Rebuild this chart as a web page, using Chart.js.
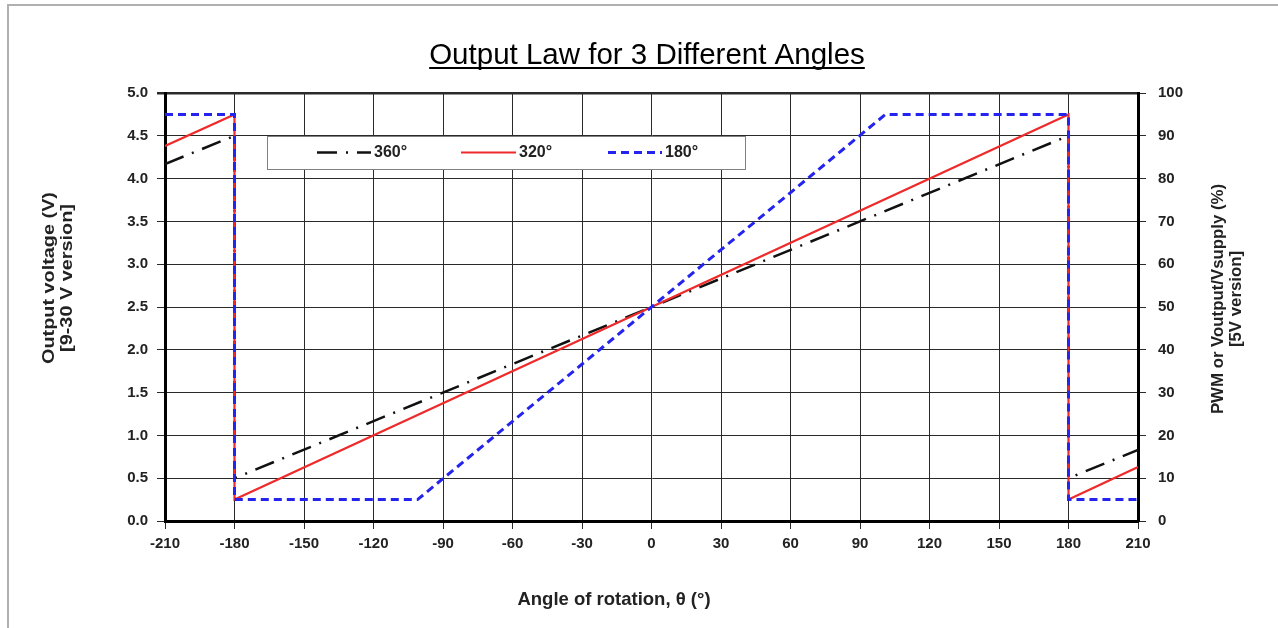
<!DOCTYPE html>
<html>
<head>
<meta charset="utf-8">
<title>Output Law for 3 Different Angles</title>
<script src="https://cdn.jsdelivr.net/npm/chart.js@4/dist/chart.umd.min.js"></script>
<style>
  html, body { margin: 0; padding: 0; background: #fff; }
  #wrap { width: 1278px; height: 628px; position: relative; }
</style>
</head>
<body>
<div id="wrap"><canvas id="lawChart"></canvas></div>
<script>
// Output law data
const angle360 = [-210, -180, -180, 180, 180, 210];
const volt360 = [4.17, 4.5, 0.5, 4.5, 0.5, 0.83];

const angle320 = [-210, -180, -180, 180, 180, 210];
const volt320 = [4.38, 4.75, 0.25, 4.75, 0.25, 0.63];

const angle180 = [-210, -180, -180, -101, 101, 180, 180, 210];
const volt180 = [4.75, 4.75, 0.25, 0.25, 4.75, 4.75, 0.25, 0.25];

const seriesNames = ['360°', '320°', '180°'];
const titleText = 'Output Law for 3 Different Angles';
const xTitle = 'Angle of rotation, θ (°)';
const leftTitle = ['Output voltage (V)', '[9-30 V version]'];
const rightTitle = ['PWM or Voutput/Vsupply (%)', '[5V version]'];

const FONT = "'Liberation Sans', Arial, sans-serif";
Chart.defaults.font.family = FONT;

function toPoints(xs, ys) {
    return xs.map((x, i) => ({ x: x, y: ys[i] }));
}

// rotated two-line title, read bottom to top
function drawVertTitle(ctx, lines, x, y, stretch) {
    ctx.save();
    ctx.font = 'bold 16px ' + FONT;
    ctx.fillStyle = '#222';
    ctx.textAlign = 'center';
    ctx.textBaseline = 'middle';
    ctx.translate(x, y);
    ctx.rotate(-Math.PI / 2);
    ctx.scale(stretch, 1);
    ctx.fillText(lines[0], 0, 0);
    ctx.fillText(lines[1], 0, 18);
    ctx.restore();
}

// title (underlined), outer frame, legend box and axis titles
const decorPlugin = {
    id: 'decor',
    beforeDraw(chart) {
        const ctx = chart.ctx;
        ctx.save();
        ctx.fillStyle = '#fff';
        ctx.fillRect(0, 0, chart.width, chart.height);
        ctx.strokeStyle = '#b0b0b0';
        ctx.lineWidth = 2;
        ctx.strokeRect(8, 5, chart.width + 20, chart.height + 20);
        ctx.restore();
    },
    afterDraw(chart) {
        const ctx = chart.ctx;
        ctx.save();

        // title
        ctx.font = '29.5px ' + FONT;
        ctx.fillStyle = '#000';
        ctx.textAlign = 'center';
        ctx.textBaseline = 'alphabetic';
        const cx = 647;
        ctx.fillText(titleText, cx, 64);
        const w = ctx.measureText(titleText).width;
        ctx.fillRect(cx - w / 2, 67, w, 2);

        // legend
        const lx = 267, ly = 136, lw = 478, lh = 33;
        ctx.fillStyle = '#fff';
        ctx.fillRect(lx, ly, lw, lh);
        ctx.strokeStyle = '#808080';
        ctx.lineWidth = 1;
        ctx.strokeRect(lx + 0.5, ly + 0.5, lw, lh);
        const items = [
            { ds: chart.data.datasets[0], x0: 317, x1: 371 },
            { ds: chart.data.datasets[1], x0: 461, x1: 516 },
            { ds: chart.data.datasets[2], x0: 608, x1: 662 }
        ];
        const my = ly + lh / 2;
        ctx.font = 'bold 16px ' + FONT;
        ctx.textAlign = 'left';
        ctx.textBaseline = 'middle';
        items.forEach(it => {
            ctx.beginPath();
            ctx.strokeStyle = it.ds.borderColor;
            ctx.lineWidth = it.ds.borderWidth;
            ctx.setLineDash(it.ds.borderDash || []);
            ctx.moveTo(it.x0, my);
            ctx.lineTo(it.x1, my);
            ctx.stroke();
            ctx.setLineDash([]);
            ctx.fillStyle = '#222';
            ctx.fillText(it.ds.label, it.x1 + 3, my);
        });

        // x axis title
        ctx.font = 'bold 18.5px ' + FONT;
        ctx.fillStyle = '#222';
        ctx.textAlign = 'center';
        ctx.textBaseline = 'middle';
        ctx.fillText(xTitle, 614, 600);
        ctx.restore();

        drawVertTitle(ctx, leftTitle, 50, 278, 1.24);
        drawVertTitle(ctx, rightTitle, 1219, 299, 1.05);
    }
};

const ctx = document.getElementById('lawChart');
const lawChart = new Chart(ctx, {
    type: 'line',
    data: {
        datasets: [{
            label: seriesNames[0],
            data: toPoints(angle360, volt360),
            borderColor: '#111',
            borderWidth: 2.5,
            borderDash: [20, 9, 2, 9],
            order: 2
        }, {
            label: seriesNames[1],
            data: toPoints(angle320, volt320),
            borderColor: '#ee2a2a',
            borderWidth: 2.2,
            order: 1
        }, {
            label: seriesNames[2],
            data: toPoints(angle180, volt180),
            borderColor: '#2424ee',
            borderWidth: 3,
            borderDash: [8, 5],
            order: 0
        }]
    },
    options: {
        responsive: true,
        maintainAspectRatio: false,
        animation: false,
        elements: {
            point: { radius: 0 },
            line: { tension: 0, fill: false, borderJoinStyle: 'miter' }
        },
        layout: { padding: { top: 93, left: 0, right: 0, bottom: 0 } },
        plugins: {
            legend: { display: false },
            title: { display: false },
            tooltip: { enabled: false }
        },
        scales: {
            x: {
                type: 'linear',
                min: -210,
                max: 210,
                afterFit(scale) { scale.height = 107; },
                afterBuildTicks(scale) {
                    scale.ticks = [];
                    for (let v = -210; v <= 210; v += 30) scale.ticks.push({ value: v });
                },
                ticks: {
                    color: '#222',
                    padding: 6,
                    font: { size: 15, weight: 'bold' }
                },
                grid: { color: '#2a2a2a', lineWidth: 1, tickLength: 8 },
                border: { color: '#000', width: 3 }
            },
            y: {
                position: 'left',
                min: 0,
                max: 5,
                afterFit(scale) { scale.width = 165; },
                ticks: {
                    stepSize: 0.5,
                    color: '#222',
                    padding: 9,
                    font: { size: 15, weight: 'bold' },
                    callback: v => v.toFixed(1)
                },
                grid: {
                    color: '#2a2a2a',
                    lineWidth: c => (c.tick && c.tick.value === 5 ? 2.5 : 1),
                    tickLength: 8
                },
                border: { color: '#000', width: 3 }
            },
            y2: {
                position: 'right',
                min: 0,
                max: 100,
                afterFit(scale) { scale.width = 140; },
                ticks: {
                    stepSize: 10,
                    color: '#222',
                    padding: 12,
                    font: { size: 15, weight: 'bold' }
                },
                grid: { drawOnChartArea: false, color: '#2a2a2a', tickLength: 8 },
                border: { color: '#000', width: 3 }
            }
        }
    },
    plugins: [decorPlugin]
});
</script>
</body>
</html>
